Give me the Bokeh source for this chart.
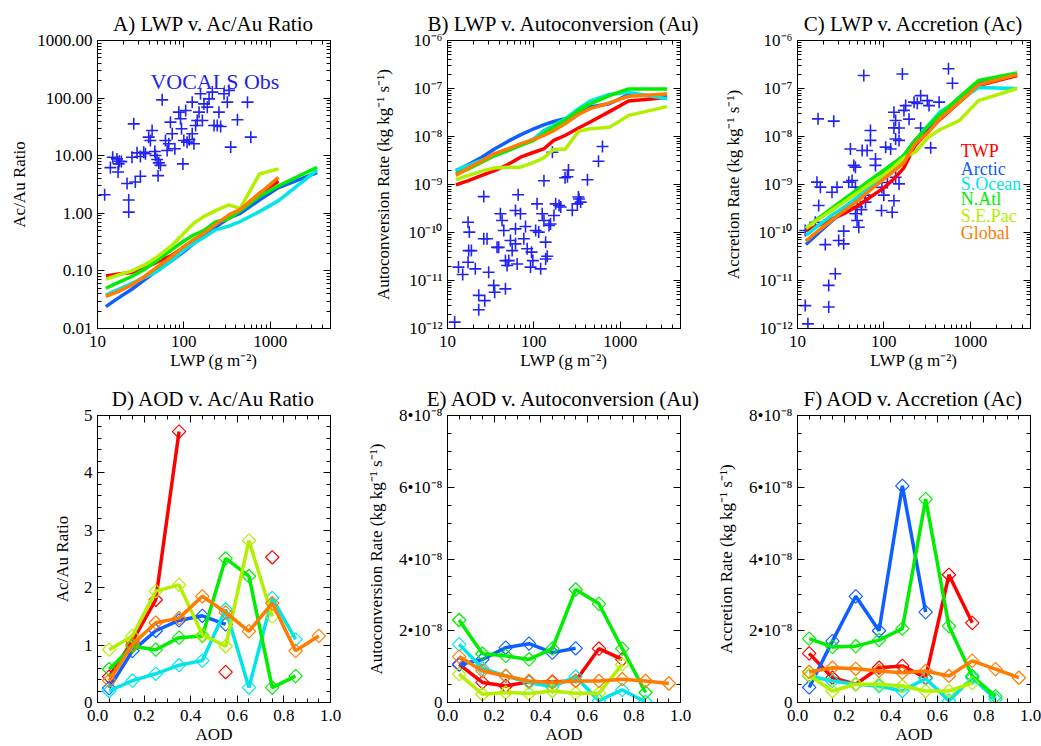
import math
from bokeh.plotting import figure
from bokeh.layouts import column, row
from bokeh.models import (Range1d, LogAxis, LinearAxis, FixedTicker,
                          CustomJSTickFormatter, Label)
from bokeh.embed import file_html
from bokeh.resources import INLINE

nan = float("nan")
FONT = "Liberation Serif"

# ---------------- data ----------------
regions = ["TWP", "Arctic", "S.Ocean", "N.Atl", "S.E.Pac", "Global"]
region_colors = ["#ff0000", "#0f5fff", "#00e6e6", "#00ee00", "#b2f000", "#ff7c00"]
obs_color = "#2323f0"

lwp_bins = [12.5, 17.5, 25, 35, 50, 70, 100, 130, 170, 230, 330, 450, 750, 1250, 3500]

ratio_twp = [0.082, 0.088, 0.094, 0.112, 0.145, 0.18, 0.26, 0.34, 0.42, 0.57, 0.875, 1.14, 2.2, 3.6, nan]
ratio_arctic = [0.024, 0.034, 0.048, 0.07, 0.104, 0.145, 0.216, 0.30, 0.40, 0.57, 0.82, 1.0, 1.7, 2.8, 5.1]
ratio_socean = [0.038, 0.048, 0.061, 0.077, 0.10, 0.145, 0.23, 0.30, 0.38, 0.51, 0.6, 0.72, 1.07, 1.66, 5.6]
ratio_natl = [0.05, 0.063, 0.08, 0.107, 0.155, 0.225, 0.33, 0.42, 0.5, 0.7, 0.8, 1.1, 1.95, 3.0, 6.3]
ratio_sepac = [0.072, 0.085, 0.10, 0.127, 0.178, 0.264, 0.45, 0.67, 0.875, 1.1, 1.4, 1.22, 4.8, 5.9, nan]
ratio_global = [0.036, 0.044, 0.057, 0.08, 0.119, 0.172, 0.264, 0.35, 0.45, 0.63, 0.93, 1.17, 2.2, 4.2, nan]

au_twp = [9.8e-10, 1.2e-9, 1.55e-9, 1.95e-9, 2.6e-9, 3.7e-9, 4.7e-9, 5.5e-9, 8.3e-9, 1.05e-8, 1.5e-8, 2.0e-8, 3.3e-8, 5.5e-8, 6.5e-8]
au_arctic = [1.9e-9, 2.6e-9, 3.7e-9, 5.5e-9, 7.9e-9, 1.08e-8, 1.45e-8, 1.75e-8, 2.05e-8, 2.34e-8, 3.2e-8, 4.1e-8, 4.8e-8, 7.5e-8, 6.8e-8]
au_socean = [2.0e-9, 2.5e-9, 3.2e-9, 4.0e-9, 5.1e-9, 6.8e-9, 8.9e-9, 1.33e-8, 1.7e-8, 2.34e-8, 3.8e-8, 5.5e-8, 7.5e-8, 8.3e-8, 6.1e-8]
au_natl = [1.66e-9, 2.1e-9, 2.9e-9, 4.0e-9, 5.1e-9, 6.5e-9, 8.3e-9, 1.15e-8, 1.6e-8, 2.2e-8, 3.5e-8, 4.8e-8, 7.1e-8, 9.8e-8, 9.8e-8]
au_sepac = [1.26e-9, 1.55e-9, 1.9e-9, 2.2e-9, 2.3e-9, 2.3e-9, 2.9e-9, 3.6e-9, 5.4e-9, 5.4e-9, 1.29e-8, 1.45e-8, 1.55e-8, 2.75e-8, 4.2e-8]
au_global = [1.55e-9, 2.2e-9, 3.1e-9, 4.4e-9, 5.5e-9, 7.0e-9, 8.7e-9, 1.05e-8, 1.33e-8, 1.84e-8, 2.9e-8, 3.8e-8, 5.0e-8, 6.9e-8, 7.7e-8]

ac_twp = [1.1e-10, 1.4e-10, 1.9e-10, 2.5e-10, 3.6e-10, 5.5e-10, 8.5e-10, 1.3e-9, 2.2e-9, 6.5e-9, 1.3e-8, 2.3e-8, 5.2e-8, 1.15e-7, 1.86e-7]
ac_arctic = [5.6e-11, 9.8e-11, 1.74e-10, 3.0e-10, 5.5e-10, 9.5e-10, 1.7e-9, 2.6e-9, 4.0e-9, 8.3e-9, 1.6e-8, 2.8e-8, 5.5e-8, 1.3e-7, 2.05e-7]
ac_socean = [8.7e-11, 1.4e-10, 2.3e-10, 3.4e-10, 5.5e-10, 9.0e-10, 1.5e-9, 2.1e-9, 3.4e-9, 8.3e-9, 1.75e-8, 3.3e-8, 5.6e-8, 1.05e-7, 1.0e-7]
ac_natl = [1.22e-10, 2.0e-10, 3.2e-10, 5.0e-10, 8.0e-10, 1.25e-9, 2.0e-9, 2.8e-9, 4.0e-9, 8.3e-9, 1.7e-8, 2.9e-8, 6.6e-8, 1.47e-7, 2.1e-7]
ac_sepac = [1.22e-10, 1.9e-10, 2.9e-10, 4.4e-10, 6.8e-10, 1.05e-9, 1.6e-9, 2.3e-9, 3.6e-9, 4.7e-9, 9.8e-9, 1.4e-8, 2.15e-8, 5.6e-8, 1.0e-7]
ac_global = [6.6e-11, 1.1e-10, 1.8e-10, 2.9e-10, 4.6e-10, 7.7e-10, 1.3e-9, 1.9e-9, 2.8e-9, 7.0e-9, 1.23e-8, 2.4e-8, 5.2e-8, 1.2e-7, 1.95e-7]

# VOCALS observations
obs_lwp_a = [12.1, 15.0, 14.1, 16.8, 17.6, 17.9, 18.9, 17.3, 22.0, 23.0, 23.0, 26.3, 25.1, 28.7, 27.4, 31.4,
             31.4, 34.3, 35.9, 39.2, 41.0, 42.9, 46.9, 46.1, 49.0, 51.3, 50.3, 53.6, 56.1, 61.3, 64.1, 67.0,
             70.0, 73.3, 78.7, 87.5, 91.6, 94.0, 97.5, 100, 105, 109, 116, 125, 125, 131, 137, 143, 150, 156,
             164, 171, 187, 196, 214, 224, 244, 255, 267, 292, 319, 334, 349, 418, 546, 597]
obs_ratio_a = [2.1, 9.4, 6.2, 8.8, 7.2, 8.0, 7.9, 5.2, 3.3, 1.7, 1.05, 35.7, 9.4, 11.2, 3.5, 4.4,
               9.7, 11.5, 10.8, 21.0, 18.4, 27.4, 10.1, 11.8, 8.6, 7.5, 4.5, 6.8, 93.3, 18.4, 12.3, 16.1,
               38.2, 24.0, 13.2, 57.0, 43.7, 29.3, 7.2, 18.4, 61.0, 17.2, 18.9, 85.0, 24.0, 16.1, 33.4, 40.8, 57.0, 119,
               40.8, 79.4, 69.6, 97.0, 127, 33.4, 33.4, 57.0, 32.1, 119, 85.0, 136, 14.1, 42.0, 85.0, 21.0]

obs_lwp_b = [12.1, 13.4, 15.0, 17.3, 17.9, 17.6, 18.9, 17.3, 21.0, 23.0, 23.0, 27.0, 26.3, 28.7, 30.0, 34.3,
             35.2, 37.5, 39.2, 41.0, 42.9, 44.9, 46.9, 49.0, 46.9, 51.3, 53.6, 56.1, 61.3, 61.3, 61.3, 64.1,
             70.0, 76.6, 80.1, 83.8, 91.6, 94.0, 97.5, 105, 109, 114, 120, 125, 131, 137, 137, 143, 150, 156,
             171, 179, 196, 205, 279, 319, 334, 349, 561, 624, 164, 131, 230, 252, 245, 418, 26.3, 65.8, 328]
obs_au_b = [1.36e-12, 1.9e-11, 1.33e-11, 1.64e-10, 1.02e-10, 4.2e-11, 4.2e-11, 2.4e-11, 1.75e-11, 4.9e-12, 2.45e-12,
            3.8e-12, 7.4e-11, 7.4e-11, 1.49e-11, 7.9e-12, 5.7e-12, 4.9e-11, 4.9e-11, 2.45e-10, 1.78e-10, 1.1e-10,
            2.6e-11, 2.05e-11, 6.7e-12, 2.6e-11, 6.8e-11, 4.2e-11, 1.19e-10, 5.8e-11, 2.87e-10, 2.2e-11, 2.45e-10,
            7.4e-11, 1.33e-10, 4.6e-11, 1.9e-11, 3.9e-11, 2.6e-11, 1.1e-10, 3.95e-10, 1.02e-10, 1.75e-11, 2.45e-10,
            1.78e-10, 6.3e-11, 2.8e-11, 3.2e-11, 1.4e-10, 1.5e-10, 2.26e-10, 3.95e-10, 3.65e-10, 3.4e-10, 2.9e-10,
            3.95e-10, 5.0e-10, 4.3e-10, 3.06e-9, 6.2e-9, 4.7e-9, 1.2e-9, 1.38e-9, 2.0e-9, 1.45e-9, 1.26e-9,
            5.6e-10, 6.1e-10, 5.5e-10]

obs_lwp_c = [58.6, 164, 561, 624, 17.3, 26.3, 267, 224, 244, 319, 334, 437, 179, 171, 131, 196, 137, 131, 150,
             267, 137, 150, 70, 70, 105, 120, 349, 41.0, 56.1, 64.1, 80.1, 44.9, 46.9, 80, 137, 150, 16.8, 18.4,
             28.7, 25.1, 39.2, 42.9, 46.9, 12.3, 17.6, 16.1, 21.0, 30.0, 34.3, 34.3, 46.9, 49.0, 51.3, 49.0,
             61.3, 94, 125, 131, 27.4, 23.0, 23.0, 12.3, 13.2, 95, 110, 100, 60, 55]
obs_ac_c = [1.87e-7, 2.0e-7, 2.57e-7, 1.29e-7, 2.33e-8, 2.09e-8, 7.1e-8, 5.2e-8, 4.9e-8, 5.6e-8, 4.4e-8, 5.2e-8,
            4.4e-8, 3.5e-8, 3.2e-8, 2.3e-8, 2.15e-8, 1.51e-8, 1.5e-8, 1.5e-8, 8.9e-9, 8.3e-9, 1.33e-8, 8.3e-9,
            6.0e-9, 5.5e-9, 5.8e-9, 5.5e-9, 5.1e-9, 5.1e-9, 3.4e-9, 2.5e-9, 2.3e-9, 2.5e-9, 1.42e-9, 1.03e-9,
            1.12e-9, 8.8e-10, 8.8e-10, 6.9e-10, 1.12e-9, 1.21e-9, 8.8e-10, 1.1e-10, 3.65e-10, 1.64e-10, 5.6e-11,
            6.8e-11, 5.8e-11, 1.07e-10, 2.45e-10, 1.78e-10, 1.29e-10, 3.4e-10, 4.3e-10, 2.87e-10, 2.65e-10,
            4.6e-10, 1.38e-11, 7.9e-12, 2.8e-12, 3.0e-12, 1.25e-12, 8.7e-10, 1.1e-9, 6.0e-10, 6.0e-10, 3.0e-10]

aod_bins = [0.05, 0.15, 0.25, 0.35, 0.45, 0.55, 0.65, 0.75, 0.85, 0.95]

aodratio_twp = [0.45, 1.07, 1.79, 4.72, nan, 0.53, nan, 2.53, nan, nan]
aodratio_arctic = [0.25, 0.9, 1.25, 1.43, 1.51, 1.36, nan, nan, nan, nan]
aodratio_socean = [0.2, 0.38, 0.5, 0.65, 0.73, 1.62, 0.26, 1.82, 1.1, nan]
aodratio_natl = [0.58, 0.98, 0.92, 1.13, 1.16, 2.51, 2.2, 0.26, 0.46, nan]
aodratio_sepac = [0.92, 1.16, 1.94, 2.05, 1.18, 0.98, 2.82, 1.5, nan, nan]
aodratio_global = [0.38, 1.01, 1.39, 1.47, 1.85, 1.57, 1.24, 1.73, 0.9, 1.16]

aodau_twp = [1.06e-8, 0.56e-8, 0.46e-8, 0.58e-8, 0.58e-8, 0.6e-8, 1.5e-8, 1.2e-8, nan, nan]
aodau_arctic = [1.06e-8, 1.2e-8, 1.53e-8, 1.64e-8, 1.39e-8, 1.51e-8, nan, nan, nan, nan]
aodau_socean = [1.62e-8, 0.95e-8, 0.74e-8, 0.56e-8, 0.44e-8, 0.72e-8, 0.05e-8, 0.35e-8, 0.02e-8, nan]
aodau_natl = [2.3e-8, 1.36e-8, 1.3e-8, 1.2e-8, 1.5e-8, 3.15e-8, 2.75e-8, 1.5e-8, 0.28e-8, nan]
aodau_sepac = [0.79e-8, 0.23e-8, 0.28e-8, 0.25e-8, 0.32e-8, 0.26e-8, 0.26e-8, 1.06e-8, nan, nan]
aodau_global = [1.28e-8, 0.88e-8, 0.74e-8, 0.6e-8, 0.56e-8, 0.6e-8, 0.6e-8, 0.65e-8, 0.6e-8, 0.53e-8]

aodac_twp = [1.37e-8, 0.69e-8, 0.51e-8, 0.97e-8, 1.02e-8, 0.69e-8, 3.56e-8, 2.22e-8, nan, nan]
aodac_arctic = [0.42e-8, 1.71e-8, 2.96e-8, 2.0e-8, 6.04e-8, 2.52e-8, nan, nan, nan, nan]
aodac_socean = [0.74e-8, 0.6e-8, 0.51e-8, 0.46e-8, 0.32e-8, 0.67e-8, 0.05e-8, 0.69e-8, 0.09e-8, nan]
aodac_natl = [1.78e-8, 1.55e-8, 1.57e-8, 1.74e-8, 2.06e-8, 5.67e-8, 2.13e-8, 0.74e-8, 0.17e-8, nan]
aodac_sepac = [0.76e-8, 0.32e-8, 0.51e-8, 0.51e-8, 0.46e-8, 0.32e-8, 0.32e-8, 0.54e-8, nan, nan]
aodac_global = [0.85e-8, 0.97e-8, 0.94e-8, 0.88e-8, 0.83e-8, 0.88e-8, 0.74e-8, 1.16e-8, 0.93e-8, 0.69e-8]

lwp_ratio = [ratio_twp, ratio_arctic, ratio_socean, ratio_natl, ratio_sepac, ratio_global]
lwp_au = [au_twp, au_arctic, au_socean, au_natl, au_sepac, au_global]
lwp_ac = [ac_twp, ac_arctic, ac_socean, ac_natl, ac_sepac, ac_global]
aod_ratio = [aodratio_twp, aodratio_arctic, aodratio_socean, aodratio_natl, aodratio_sepac, aodratio_global]
aod_au = [aodau_twp, aodau_arctic, aodau_socean, aodau_natl, aodau_sepac, aodau_global]
aod_ac = [aodac_twp, aodac_arctic, aodac_socean, aodac_natl, aodac_sepac, aodac_global]

# ---------------- helpers ----------------
def log_minor(lo, hi):
    out = []
    for d in range(lo, hi):
        for m in range(2, 10):
            out.append(m * 10.0 ** d)
    return out

FMT_INT = "return tick.toFixed(0);"
FMT_2 = "return tick.toFixed(2);"
FMT_1 = "return tick.toFixed(1);"
FMT_POW = """
const e = Math.round(Math.log10(tick));
const m = {"-":"⁻","0":"⁰","1":"¹","2":"²","3":"³","4":"⁴","5":"⁵","6":"⁶","7":"⁷","8":"⁸","9":"⁹"};
let s = "";
for (const c of String(e)) { s += m[c]; }
return "10" + s;
"""
FMT_E8 = """
if (Math.abs(tick) < 1e-15) { return "0"; }
return Math.round(tick / 1e-8) + "•10⁻⁸";
"""
FMT_NONE = "return '';"


def style_axis(ax, ticks, minor, code, label="", lab_standoff=5, axlab_standoff=5, hidden=False):
    ax.ticker = FixedTicker(ticks=ticks, minor_ticks=minor)
    ax.major_tick_in = 7
    ax.major_tick_out = 0
    ax.minor_tick_in = 4
    ax.minor_tick_out = 0
    ax.axis_line_color = "black"
    ax.major_tick_line_color = "black"
    ax.minor_tick_line_color = "black"
    if hidden:
        ax.formatter = CustomJSTickFormatter(code=FMT_NONE)
        ax.major_label_text_font_size = "0px"
        ax.major_label_standoff = 0
        return
    ax.formatter = CustomJSTickFormatter(code=code)
    ax.major_label_text_font = FONT
    ax.major_label_text_font_size = "17px"
    ax.major_label_text_color = "black"
    ax.major_label_standoff = lab_standoff
    ax.axis_label = label
    ax.axis_label_text_font = FONT
    ax.axis_label_text_font_size = "17px"
    ax.axis_label_text_font_style = "normal"
    ax.axis_label_text_color = "black"
    ax.axis_label_standoff = axlab_standoff


FRAME_W = 233


def make_fig(title, xlog, ylog, xr, yr, borders):
    bl, br, bt, bb = borders
    p = figure(width=bl + FRAME_W + br, height=373,
               x_axis_type="log" if xlog else "linear",
               y_axis_type="log" if ylog else "linear",
               x_range=Range1d(*xr), y_range=Range1d(*yr),
               output_backend="svg", toolbar_location=None,
               min_border_left=bl, min_border_right=br,
               min_border_top=bt, min_border_bottom=bb,
               title=title)
    p.title.text_font = FONT
    p.title.text_font_size = "21px"
    p.title.text_font_style = "normal"
    p.title.align = "center"
    p.title.text_color = "black"
    p.grid.visible = False
    p.outline_line_color = "black"
    p.background_fill_color = "white"
    p.border_fill_color = "white"
    return p


def add_mirrors(p, xlog, ylog, xt, xm, yt, ym):
    ra = LogAxis() if ylog else LinearAxis()
    style_axis(ra, yt, ym, FMT_NONE, hidden=True)
    p.add_layout(ra, "right")
    ta = LogAxis() if xlog else LinearAxis()
    style_axis(ta, xt, xm, FMT_NONE, hidden=True)
    p.add_layout(ta, "above")


# column borders (left, right): frames at x = 97, 447, 797 (width 233 each)
col_borders = [(97, 17), (100, 26), (91, 11)]
top_tb = (40, 45)
bot_tb = (42, 43)

lwp_ticks = [10, 100, 1000]
lwp_minor = log_minor(1, 4)
lwp_label = "LWP (g m⁻²)"

# ---------------- top row ----------------
top_specs = [
    ("A) LWP v. Ac/Au Ratio", (0.01, 1000), [0.01, 0.1, 1, 10, 100, 1000], log_minor(-2, 3), FMT_2,
     "Ac/Au Ratio", 5, obs_lwp_a, obs_ratio_a, lwp_ratio),
    ("B) LWP v. Autoconversion (Au)", (1e-12, 1e-6), [10.0 ** k for k in range(-12, -5)], log_minor(-12, -6), FMT_POW,
     "Autoconversion Rate (kg kg⁻¹ s⁻¹)", 12, obs_lwp_b, obs_au_b, lwp_au),
    ("C) LWP v. Accretion (Ac)", (1e-12, 1e-6), [10.0 ** k for k in range(-12, -5)], log_minor(-12, -6), FMT_POW,
     "Accretion Rate (kg kg⁻¹ s⁻¹)", 12, obs_lwp_c, obs_ac_c, lwp_ac),
]

top_figs = []
for i, (title, yr, yt, ym, yfmt, ylab, ystand, ox, oy, series) in enumerate(top_specs):
    bl, br = col_borders[i]
    p = make_fig(title, True, True, (10, 5000), yr, (bl, br, top_tb[0], top_tb[1]))
    style_axis(p.xaxis[0], lwp_ticks, lwp_minor, FMT_INT, lwp_label, lab_standoff=7, axlab_standoff=1)
    style_axis(p.yaxis[0], yt, ym, yfmt, ylab, lab_standoff=5, axlab_standoff=ystand)
    add_mirrors(p, True, True, lwp_ticks, lwp_minor, yt, ym)
    p.scatter(ox, oy, marker="cross", size=12, line_color=obs_color, line_width=1.6)
    for vals, col in zip(series, region_colors):
        p.line(lwp_bins, vals, line_color=col, line_width=3.5)
    top_figs.append(p)

# VOCALS label in panel A
top_figs[0].add_layout(Label(x=41, y=194, text="VOCALS Obs", text_font=FONT, text_font_size="22px",
                             text_color=obs_color, text_baseline="alphabetic"))

# region names in panel C (placed by pixel offsets within the frame)
leg_px_x = 960 - 797.3
leg_px_y = [150, 168, 183, 198, 215, 232]
for name, col, py in zip(regions, region_colors, leg_px_y):
    lx = 10 ** (1 + leg_px_x / 86.0)
    ly = 10 ** (-6 - (py - 40) / 48.0)
    top_figs[2].add_layout(Label(x=lx, y=ly, text=name, text_font=FONT, text_font_size="18px",
                                 text_color=col, text_baseline="alphabetic"))

# ---------------- bottom row ----------------
aod_ticks = [0.0, 0.2, 0.4, 0.6, 0.8, 1.0]
aod_minor = [round(0.05 * k, 2) for k in range(21)]
e8_ticks = [0, 2e-8, 4e-8, 6e-8, 8e-8]
e8_minor = [k * 0.5e-8 for k in range(17)]

bot_specs = [
    ("D) AOD v. Ac/Au Ratio", (0, 5), [0, 1, 2, 3, 4, 5], [k * 0.2 for k in range(26)], FMT_INT,
     "Ac/Au Ratio", 9, aod_ratio),
    ("E) AOD v. Autoconversion (Au)", (0, 8e-8), e8_ticks, e8_minor, FMT_E8,
     "Autoconversion Rate (kg kg⁻¹ s⁻¹)", 10, aod_au),
    ("F) AOD v. Accretion (Ac)", (0, 8e-8), e8_ticks, e8_minor, FMT_E8,
     "Accretion Rate (kg kg⁻¹ s⁻¹)", 10, aod_ac),
]

bot_figs = []
for i, (title, yr, yt, ym, yfmt, ylab, ystand, series) in enumerate(bot_specs):
    bl, br = col_borders[i]
    p = make_fig(title, False, False, (0, 1), yr, (bl, br, bot_tb[0], bot_tb[1]))
    style_axis(p.xaxis[0], aod_ticks, aod_minor, FMT_1, "AOD", lab_standoff=7, axlab_standoff=1)
    style_axis(p.yaxis[0], yt, ym, yfmt, ylab, lab_standoff=5, axlab_standoff=ystand)
    add_mirrors(p, False, False, aod_ticks, aod_minor, yt, ym)
    for vals, col in zip(series, region_colors):
        p.line(aod_bins, vals, line_color=col, line_width=3.5)
        p.scatter(aod_bins, vals, marker="square", angle=math.pi / 4, size=9.5,
                  fill_color=None, line_color=col, line_width=1.2)
    bot_figs.append(p)

layout = column(row(*top_figs), row(*bot_figs))
open("out.html", "w").write(file_html(layout, INLINE))
